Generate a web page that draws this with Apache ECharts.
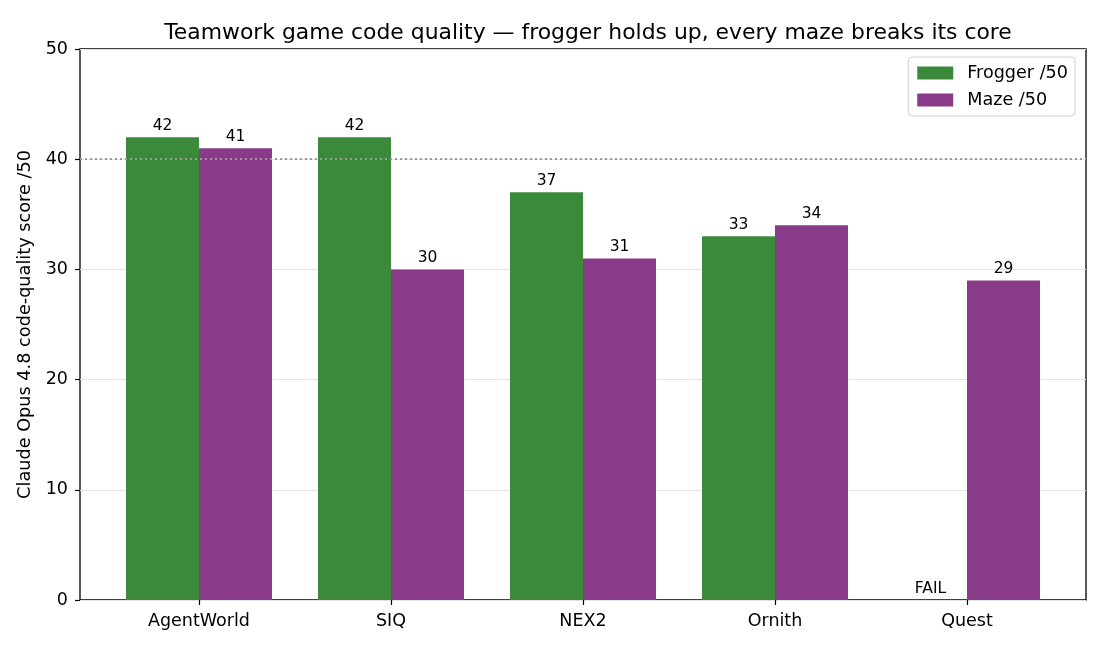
<!DOCTYPE html>
<html><head><meta charset="utf-8">
<script src="https://cdn.jsdelivr.net/npm/echarts@6/dist/echarts.min.js"></script>
<style>html,body{margin:0;padding:0;background:#fff}#c{width:1105px;height:650px}</style>
</head><body><div id="c"></div>
<script>
const categories = ['AgentWorld', 'SIQ', 'NEX2', 'Ornith', 'Quest'];
const frogger = [42, 42, 37, 33, 0];
const froggerLabels = ['42', '42', '37', '33', 'FAIL'];
const maze = [41, 30, 31, 34, 29];
const yTicks = [0, 10, 20, 30, 40, 50];
const threshold = 40;

const font = 'DejaVu Sans';
const chart = echarts.init(document.getElementById('c'));
chart.setOption({
  animation: false,
  textStyle: { fontFamily: font },
  title: {
    text: 'Teamwork game code quality — frogger holds up, every maze breaks its core',
    left: 583, top: 17, textAlign: 'center',
    textStyle: { fontFamily: font, fontSize: 21.9, fontWeight: 'normal', color: '#000' }
  },
  legend: {
    right: 30, top: 57, orient: 'vertical',
    icon: 'path://M0,0H36V13H0ZM45,0L45,13L45,0Z',
    itemWidth: 45, itemHeight: 13, itemGap: 9,
    padding: [7, 7, 7, 9],
    borderColor: '#d0d0d0', borderWidth: 1, borderRadius: 4,
    textStyle: { fontFamily: font, fontSize: 17.6, color: '#000' },
    data: ['Frogger /50', 'Maze /50']
  },
  grid: [
    { left: 80, right: 19, top: 49, bottom: 50, show: true, borderColor: '#000', borderWidth: 1.3, backgroundColor: 'transparent' },
    { left: 103, right: 42, top: 49, bottom: 50 }
  ],
  xAxis: [
    { gridIndex: 0, type: 'value', min: 0, max: 1, show: false },
    {
      gridIndex: 1, type: 'category', data: categories,
      axisLine: { show: false },
      axisTick: { show: true, alignWithLabel: true, length: 5, lineStyle: { color: '#000', width: 1.2 } },
      axisLabel: { color: '#000', fontSize: 17.5, fontFamily: font, margin: 12 }
    }
  ],
  yAxis: [
    {
      gridIndex: 0, type: 'value', min: 0, max: 50, interval: 10,
      name: 'Claude Opus 4.8 code-quality score /50', nameLocation: 'middle', nameGap: 37,
      nameTextStyle: { fontFamily: font, fontSize: 17.7, color: '#000' },
      axisLine: { show: false },
      axisTick: { show: true, length: 5, lineStyle: { color: '#000', width: 1.2 } },
      axisLabel: { color: '#000', fontSize: 17.5, fontFamily: font, margin: 12,
        formatter: v => yTicks.includes(v) ? String(v) : '' },
      splitLine: { show: true, lineStyle: { color: '#e3e3e3', width: 1 } }
    },
    { gridIndex: 1, type: 'value', min: 0, max: 50, show: false }
  ],
  series: [
    {
      type: 'line', xAxisIndex: 0, yAxisIndex: 0, data: [], silent: true,
      markLine: {
        symbol: 'none', silent: true, label: { show: false },
        lineStyle: { color: '#9a9a9a', type: [2, 3], width: 1.8 },
        data: [{ yAxis: threshold }]
      }
    },
    {
      name: 'Frogger /50', type: 'bar', xAxisIndex: 1, yAxisIndex: 1,
      data: frogger, barWidth: 73, barGap: '0%',
      itemStyle: { color: '#3b8a3b' },
      label: { show: true, position: 'top', distance: 3, color: '#000', fontSize: 15.5, fontFamily: font,
        formatter: p => froggerLabels[p.dataIndex] }
    },
    {
      name: 'Maze /50', type: 'bar', xAxisIndex: 1, yAxisIndex: 1,
      data: maze, barWidth: 73, barGap: '0%',
      itemStyle: { color: '#893b89' },
      label: { show: true, position: 'top', distance: 3, color: '#000', fontSize: 15.5, fontFamily: font }
    }
  ]
});
</script></body></html>
